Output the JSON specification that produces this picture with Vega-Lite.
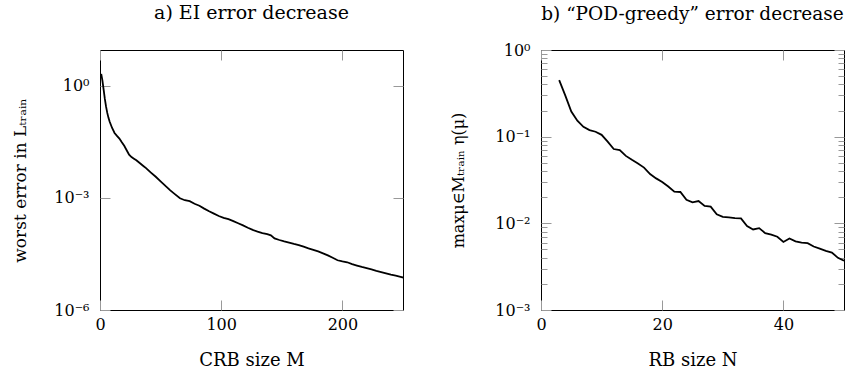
{
  "$schema": "https://vega.github.io/schema/vega-lite/v6.json",
  "background": "white",
  "padding": {"left": 11, "top": 3, "right": 5, "bottom": 0},
  "spacing": 138,
  "bounds": "flush",
  "config": {
    "font": "DejaVu Serif",
    "view": {"stroke": "#000", "strokeWidth": 1},
    "axis": {"grid": false, "domain": false, "tickColor": "#999", "tickWidth": 1, "labelFont": "DejaVu Serif", "titleFont": "DejaVu Serif", "labelFontSize": 16, "titleFontSize": 17, "labelColor": "#000", "titleColor": "#000", "titleFontWeight": "normal", "labelFlush": false, "labelOverlap": false},
    "title": {"font": "DejaVu Serif", "fontSize": 19, "fontWeight": "normal", "color": "#000", "anchor": "middle"}
  },
  "datasets": {
    "ei": [
      {"M":1,"err":2.1},{"M":2,"err":1.4},{"M":3,"err":0.8},{"M":4,"err":0.45},{"M":5,"err":0.28},{"M":6,"err":0.19},{"M":7,"err":0.14},{"M":8,"err":0.11},{"M":10,"err":0.075},{"M":12,"err":0.055},{"M":14,"err":0.046},{"M":16,"err":0.039},{"M":18,"err":0.031},{"M":20,"err":0.025},{"M":22,"err":0.019},{"M":24,"err":0.0145},{"M":26,"err":0.0125},{"M":28,"err":0.0113},{"M":30,"err":0.0102},{"M":33,"err":0.0085},{"M":36,"err":0.0071},{"M":38,"err":0.0063},{"M":42,"err":0.0048},{"M":46,"err":0.0037},{"M":50,"err":0.0028},{"M":54,"err":0.0021},{"M":58,"err":0.0016},{"M":62,"err":0.00125},{"M":66,"err":0.00098},{"M":70,"err":0.00087},{"M":74,"err":0.00082},{"M":78,"err":0.0007},{"M":82,"err":0.00062},{"M":86,"err":0.00052},{"M":90,"err":0.00044},{"M":94,"err":0.00038},{"M":98,"err":0.00033},{"M":102,"err":0.000295},{"M":106,"err":0.00027},{"M":110,"err":0.00024},{"M":114,"err":0.00021},{"M":118,"err":0.000185},{"M":122,"err":0.00016},{"M":126,"err":0.00014},{"M":130,"err":0.000125},{"M":134,"err":0.000115},{"M":138,"err":0.000108},{"M":141,"err":0.0001},{"M":144,"err":0.000083},{"M":148,"err":0.000075},{"M":152,"err":0.000069},{"M":156,"err":0.000064},{"M":160,"err":0.000059},{"M":164,"err":0.000055},{"M":168,"err":0.00005},{"M":172,"err":0.000045},{"M":176,"err":0.000041},{"M":180,"err":0.000037},{"M":184,"err":0.000033},{"M":188,"err":0.000029},{"M":192,"err":0.000025},{"M":196,"err":0.0000215},{"M":200,"err":0.00002},{"M":204,"err":0.000019},{"M":208,"err":0.000017},{"M":212,"err":0.0000155},{"M":216,"err":0.0000142},{"M":220,"err":0.0000132},{"M":224,"err":0.0000122},{"M":228,"err":0.0000112},{"M":232,"err":0.0000104},{"M":236,"err":0.0000096},{"M":240,"err":0.0000088},{"M":244,"err":0.0000083},{"M":248,"err":0.0000077},{"M":250,"err":0.0000074}
    ],
    "pod": [
      {"N":3,"eta":0.45},{"N":4,"eta":0.3},{"N":5,"eta":0.195},{"N":6,"eta":0.153},{"N":7,"eta":0.13},{"N":8,"eta":0.119},{"N":9,"eta":0.114},{"N":10,"eta":0.105},{"N":11,"eta":0.0875},{"N":12,"eta":0.072},{"N":13,"eta":0.07},{"N":14,"eta":0.06},{"N":15,"eta":0.054},{"N":16,"eta":0.049},{"N":17,"eta":0.044},{"N":18,"eta":0.037},{"N":19,"eta":0.033},{"N":20,"eta":0.03},{"N":21,"eta":0.0266},{"N":22,"eta":0.0232},{"N":23,"eta":0.023},{"N":24,"eta":0.0187},{"N":25,"eta":0.0175},{"N":26,"eta":0.0181},{"N":27,"eta":0.0159},{"N":28,"eta":0.0156},{"N":29,"eta":0.0127},{"N":30,"eta":0.0119},{"N":31,"eta":0.0117},{"N":32,"eta":0.0115},{"N":33,"eta":0.0114},{"N":34,"eta":0.0093},{"N":35,"eta":0.0085},{"N":36,"eta":0.0088},{"N":37,"eta":0.0077},{"N":38,"eta":0.0074},{"N":39,"eta":0.007},{"N":40,"eta":0.0061},{"N":41,"eta":0.0067},{"N":42,"eta":0.0062},{"N":43,"eta":0.006},{"N":44,"eta":0.0059},{"N":45,"eta":0.0054},{"N":46,"eta":0.0051},{"N":47,"eta":0.0048},{"N":48,"eta":0.0046},{"N":49,"eta":0.004},{"N":50,"eta":0.0037}
    ]
  },
  "hconcat": [
    {
      "width": 303,
      "height": 260,
      "title": {"text": "a) EI error decrease", "offset": 27},
      "data": {"name": "ei"},
      "layer": [
        {
          "mark": {"type": "line", "color": "black", "strokeWidth": 1.8, "clip": true},
          "encoding": {
            "x": {"field": "M", "type": "quantitative", "scale": {"domain": [0, 250], "nice": false, "zero": false},
                  "axis": {"orient": "bottom", "values": [0, 100, 200], "tickSize": -10, "labelPadding": 16, "title": "CRB size M", "titleFontSize": 18, "titlePadding": 19}},
            "y": {"field": "err", "type": "quantitative", "scale": {"type": "log", "domain": [0.000001, 9.2], "nice": false},
                  "axis": {"orient": "left", "values": [0.000001, 0.001, 1], "tickSize": -10, "labelPadding": 21, "labelExpr": "datum.value > 0.5 ? '10⁰' : datum.value > 0.0005 ? '10⁻³' : '10⁻⁶'", "title": "worst error in Lₜᵣₐᵢₙ", "titlePadding": 24}}
          }
        },
        {
          "mark": {"type": "line", "opacity": 0},
          "encoding": {
            "x": {"field": "M", "type": "quantitative", "scale": {"domain": [0, 250], "nice": false, "zero": false},
                  "axis": {"orient": "top", "values": [0, 100, 200], "tickSize": -10, "labels": false, "title": null}},
            "y": {"field": "err", "type": "quantitative", "scale": {"type": "log", "domain": [0.000001, 9.2], "nice": false},
                  "axis": {"orient": "right", "values": [0.000001, 0.001, 1], "tickSize": -10, "labels": false, "title": null}}
          }
        }
      ],
      "resolve": {"axis": {"x": "independent", "y": "independent"}}
    },
    {
      "width": 303,
      "height": 260,
      "title": {"text": "b) “POD-greedy” error decrease", "offset": 19, "fontSize": 18.5},
      "data": {"name": "pod"},
      "layer": [
        {
          "mark": {"type": "line", "color": "black", "strokeWidth": 1.8, "clip": true},
          "encoding": {
            "x": {"field": "N", "type": "quantitative", "scale": {"domain": [0, 50], "nice": false, "zero": false},
                  "axis": {"orient": "bottom", "values": [0, 20, 40], "tickSize": -10, "labelPadding": 16, "title": "RB size N", "titleFontSize": 18, "titlePadding": 19}},
            "y": {"field": "eta", "type": "quantitative", "scale": {"type": "log", "domain": [0.001, 1], "nice": false},
                  "axis": {"orient": "left", "values": [0.001, 0.002, 0.003, 0.004, 0.005, 0.006, 0.007, 0.008, 0.009, 0.01, 0.02, 0.03, 0.04, 0.05, 0.06, 0.07, 0.08, 0.09, 0.1, 0.2, 0.3, 0.4, 0.5, 0.6, 0.7, 0.8, 0.9, 1],
                           "tickSize": {"condition": {"test": "abs(log(datum.value)/LN10 - round(log(datum.value)/LN10)) < 0.01", "value": -10}, "value": -6},
                           "labelPadding": 21,
                           "labelExpr": "abs(datum.value - 1) < 0.01 ? '10⁰' : abs(datum.value - 0.1) < 0.001 ? '10⁻¹' : abs(datum.value - 0.01) < 0.0001 ? '10⁻²' : abs(datum.value - 0.001) < 0.00001 ? '10⁻³' : ''",
                           "title": "maxμ∈Mₜᵣₐᵢₙ η(μ)", "titleFontSize": 16, "titlePadding": 28}}
          }
        },
        {
          "mark": {"type": "line", "opacity": 0},
          "encoding": {
            "x": {"field": "N", "type": "quantitative", "scale": {"domain": [0, 50], "nice": false, "zero": false},
                  "axis": {"orient": "top", "values": [0, 20, 40], "tickSize": -10, "labels": false, "title": null}},
            "y": {"field": "eta", "type": "quantitative", "scale": {"type": "log", "domain": [0.001, 1], "nice": false},
                  "axis": {"orient": "right", "values": [0.001, 0.002, 0.003, 0.004, 0.005, 0.006, 0.007, 0.008, 0.009, 0.01, 0.02, 0.03, 0.04, 0.05, 0.06, 0.07, 0.08, 0.09, 0.1, 0.2, 0.3, 0.4, 0.5, 0.6, 0.7, 0.8, 0.9, 1],
                           "tickSize": {"condition": {"test": "abs(log(datum.value)/LN10 - round(log(datum.value)/LN10)) < 0.01", "value": -10}, "value": -6},
                           "labels": false, "title": null}}
          }
        }
      ],
      "resolve": {"axis": {"x": "independent", "y": "independent"}}
    }
  ]
}
